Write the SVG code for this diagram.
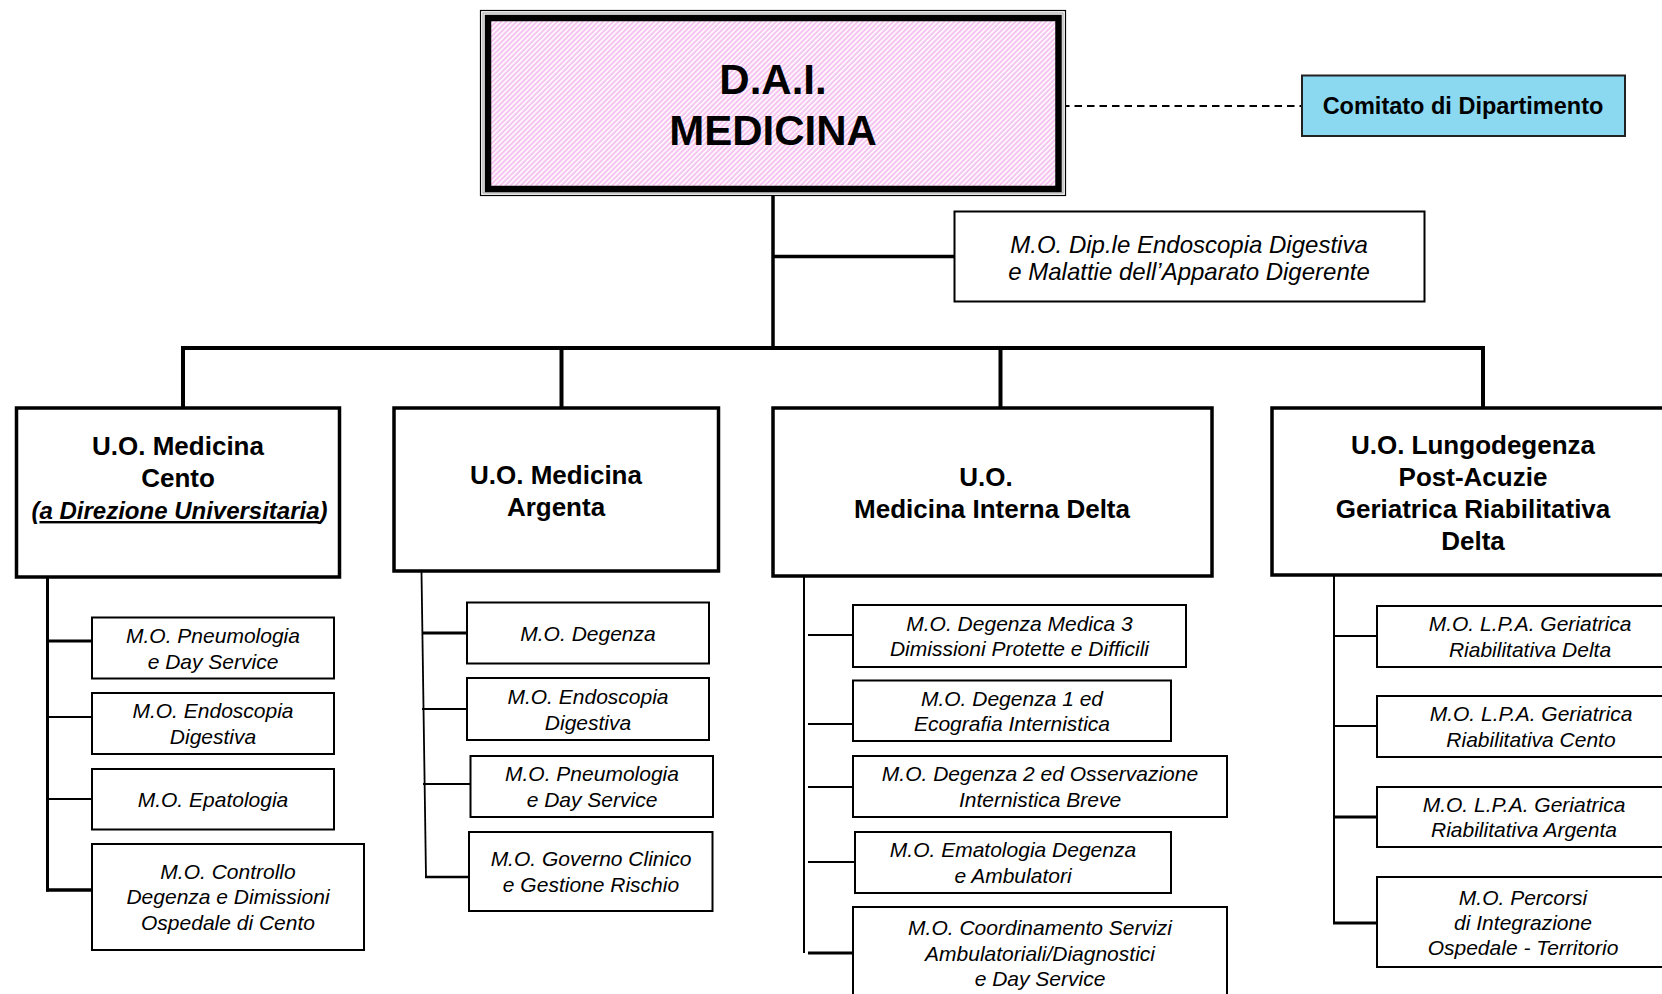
<svg xmlns="http://www.w3.org/2000/svg" width="1662" height="994" viewBox="0 0 1662 994">
<style>
text{font-family:"Liberation Sans",Arial,sans-serif;fill:#000;text-anchor:middle}
.h{font-weight:bold;font-size:26px}
.s{font-style:italic;font-size:21px}
.uo{fill:#fff;stroke:#000;stroke-width:3.5}
.mo{fill:#fff;stroke:#000;stroke-width:2}
.c line{stroke:#000}
</style>
<defs>
<pattern id="hatch" width="3.6" height="3.6" patternUnits="userSpaceOnUse" patternTransform="rotate(45)">
<rect width="3.6" height="3.6" fill="#f5c3ef"/>
<rect width="1.5" height="3.6" fill="#ffffff"/>
</pattern>
</defs>
<rect width="1662" height="994" fill="#fff"/>

<g id="connectors" class="c">
<line x1="1062" y1="106" x2="1302" y2="106" stroke-width="2" stroke-dasharray="7.5 5"/>
<line x1="773" y1="192" x2="773" y2="350" stroke-width="3.5"/>
<line x1="773" y1="256.5" x2="954" y2="256.5" stroke-width="3.5"/>
<line x1="181" y1="348" x2="1485" y2="348" stroke-width="4"/>
<line x1="183" y1="348" x2="183" y2="408" stroke-width="4"/>
<line x1="561.5" y1="348" x2="561.5" y2="408" stroke-width="4"/>
<line x1="1000.5" y1="348" x2="1000.5" y2="408" stroke-width="4"/>
<line x1="1483" y1="348" x2="1483" y2="408" stroke-width="4"/>
<!-- Cento -->
<line x1="47.5" y1="573" x2="47.5" y2="891.5" stroke-width="3"/>
<line x1="46" y1="641" x2="92" y2="641" stroke-width="3"/>
<line x1="46" y1="717" x2="92" y2="717" stroke-width="2"/>
<line x1="46" y1="799" x2="92" y2="799" stroke-width="2"/>
<line x1="46" y1="890" x2="92" y2="890" stroke-width="3.5"/>
<!-- Argenta -->
<line x1="421.5" y1="572" x2="426" y2="877" stroke-width="1.8"/>
<line x1="422" y1="633" x2="467" y2="633" stroke-width="3"/>
<line x1="422" y1="709" x2="467" y2="709" stroke-width="2"/>
<line x1="423" y1="784" x2="470.5" y2="784" stroke-width="2"/>
<line x1="425" y1="877" x2="469" y2="877" stroke-width="2.5"/>
<!-- Delta -->
<line x1="804" y1="576" x2="804" y2="953" stroke-width="2"/>
<line x1="808" y1="635" x2="853" y2="635" stroke-width="2"/>
<line x1="808" y1="724" x2="853" y2="724" stroke-width="2"/>
<line x1="808" y1="787" x2="853" y2="787" stroke-width="2"/>
<line x1="808" y1="862" x2="855" y2="862" stroke-width="2"/>
<line x1="808" y1="953" x2="853" y2="953" stroke-width="3"/>
<!-- Lungodegenza -->
<line x1="1334" y1="575" x2="1334" y2="924" stroke-width="2"/>
<line x1="1334" y1="636" x2="1377" y2="636" stroke-width="2"/>
<line x1="1334" y1="726" x2="1377" y2="726" stroke-width="2"/>
<line x1="1334" y1="817" x2="1377" y2="817" stroke-width="3"/>
<line x1="1333" y1="923" x2="1377" y2="923" stroke-width="3"/>
</g>

<g id="dai">
<rect x="480.5" y="10.5" width="585" height="185" fill="#fff" stroke="#000" stroke-width="1.2"/>
<rect x="483" y="13" width="580" height="180" fill="none" stroke="#999" stroke-width="1"/>
<rect x="488" y="18" width="570.5" height="171" fill="url(#hatch)" stroke="#000" stroke-width="6.5"/>
<text x="773" y="94" font-size="42" font-weight="bold">D.A.I.</text>
<text x="773" y="145" font-size="42" font-weight="bold">MEDICINA</text>
</g>

<g id="comitato">
<rect x="1302" y="75.5" width="323" height="60.5" fill="#8ad9f1" stroke="#222" stroke-width="2"/>
<text x="1463" y="114" font-size="23.5" font-weight="bold">Comitato di Dipartimento</text>
</g>

<g id="dip-endoscopia">
<rect x="954.5" y="211.5" width="470" height="90" fill="#fff" stroke="#000" stroke-width="2"/>
<text x="1189" y="252.5" font-size="24" font-style="italic">M.O. Dip.le Endoscopia Digestiva</text>
<text x="1189" y="280" font-size="24" font-style="italic">e Malattie dell’Apparato Digerente</text>
</g>

<g id="uo-cento">
<rect class="uo" x="16.5" y="408" width="323" height="169"/>
<text class="h" x="178" y="455">U.O. Medicina</text>
<text class="h" x="178" y="487">Cento</text>
<text class="h" x="179.5" y="519" style="font-style:italic;font-size:24px">(<tspan text-decoration="underline">a Direzione Universitaria</tspan>)</text>
</g>
<g id="uo-argenta">
<rect class="uo" x="394" y="408" width="324.5" height="163"/>
<text class="h" x="556" y="484">U.O. Medicina</text>
<text class="h" x="556" y="516">Argenta</text>
</g>
<g id="uo-delta">
<rect class="uo" x="773" y="408" width="439" height="168"/>
<text class="h" x="986" y="486">U.O.</text>
<text class="h" x="992" y="518">Medicina Interna Delta</text>
</g>
<g id="uo-lungodegenza">
<rect class="uo" x="1272" y="408" width="410" height="167"/>
<text class="h" x="1473" y="454">U.O. Lungodegenza</text>
<text class="h" x="1473" y="486">Post-Acuzie</text>
<text class="h" x="1473" y="518">Geriatrica Riabilitativa</text>
<text class="h" x="1473" y="550">Delta</text>
</g>

<g id="mo-cento-pneumologia">
<rect class="mo" x="92" y="617.5" width="242" height="61"/>
<text class="s" x="213" y="643">M.O. Pneumologia</text>
<text class="s" x="213" y="668.5">e Day Service</text>
</g>
<g id="mo-cento-endoscopia">
<rect class="mo" x="92" y="693" width="242" height="61"/>
<text class="s" x="213" y="718">M.O. Endoscopia</text>
<text class="s" x="213" y="744">Digestiva</text>
</g>
<g id="mo-cento-epatologia">
<rect class="mo" x="92" y="769" width="242" height="60.5"/>
<text class="s" x="213" y="806.5">M.O. Epatologia</text>
</g>
<g id="mo-cento-controllo">
<rect class="mo" x="92" y="844" width="272" height="106"/>
<text class="s" x="228" y="878.5">M.O. Controllo</text>
<text class="s" x="228" y="904">Degenza e Dimissioni</text>
<text class="s" x="228" y="929.5">Ospedale di Cento</text>
</g>

<g id="mo-argenta-degenza">
<rect class="mo" x="467" y="602.5" width="242" height="61"/>
<text class="s" x="588" y="640.5">M.O. Degenza</text>
</g>
<g id="mo-argenta-endoscopia">
<rect class="mo" x="467" y="678" width="242" height="62"/>
<text class="s" x="588" y="704">M.O. Endoscopia</text>
<text class="s" x="588" y="729.5">Digestiva</text>
</g>
<g id="mo-argenta-pneumologia">
<rect class="mo" x="470.5" y="756" width="242.5" height="61"/>
<text class="s" x="592" y="781">M.O. Pneumologia</text>
<text class="s" x="592" y="807">e Day Service</text>
</g>
<g id="mo-argenta-governo">
<rect class="mo" x="469" y="832" width="243.5" height="79"/>
<text class="s" x="591" y="866">M.O. Governo Clinico</text>
<text class="s" x="591" y="892">e Gestione Rischio</text>
</g>

<g id="mo-delta-degenza3">
<rect class="mo" x="853" y="605" width="333" height="62"/>
<text class="s" x="1019.5" y="630.5">M.O. Degenza Medica 3</text>
<text class="s" x="1019.5" y="656">Dimissioni Protette e Difficili</text>
</g>
<g id="mo-delta-degenza1">
<rect class="mo" x="853" y="680.5" width="318" height="60.5"/>
<text class="s" x="1012" y="705.5">M.O. Degenza 1 ed</text>
<text class="s" x="1012" y="731">Ecografia Internistica</text>
</g>
<g id="mo-delta-degenza2">
<rect class="mo" x="853" y="756" width="374" height="61"/>
<text class="s" x="1040" y="781">M.O. Degenza 2 ed Osservazione</text>
<text class="s" x="1040" y="806.5">Internistica Breve</text>
</g>
<g id="mo-delta-ematologia">
<rect class="mo" x="855" y="832" width="316" height="61"/>
<text class="s" x="1013" y="857">M.O. Ematologia Degenza</text>
<text class="s" x="1013" y="882.5">e Ambulatori</text>
</g>
<g id="mo-delta-coordinamento">
<rect class="mo" x="853" y="907" width="374" height="100"/>
<text class="s" x="1040" y="935">M.O. Coordinamento Servizi</text>
<text class="s" x="1040" y="960.5">Ambulatoriali/Diagnostici</text>
<text class="s" x="1040" y="986">e Day Service</text>
</g>

<g id="mo-lpa-delta">
<rect class="mo" x="1377" y="606" width="306" height="61"/>
<text class="s" x="1530" y="631">M.O. L.P.A. Geriatrica</text>
<text class="s" x="1530" y="656.5">Riabilitativa Delta</text>
</g>
<g id="mo-lpa-cento">
<rect class="mo" x="1377" y="696" width="306" height="61"/>
<text class="s" x="1531" y="721">M.O. L.P.A. Geriatrica</text>
<text class="s" x="1531" y="746.5">Riabilitativa Cento</text>
</g>
<g id="mo-lpa-argenta">
<rect class="mo" x="1377" y="787" width="306" height="60"/>
<text class="s" x="1524" y="811.5">M.O. L.P.A. Geriatrica</text>
<text class="s" x="1524" y="837">Riabilitativa Argenta</text>
</g>
<g id="mo-percorsi">
<rect class="mo" x="1377" y="877" width="306" height="90"/>
<text class="s" x="1523" y="904.5">M.O. Percorsi</text>
<text class="s" x="1523" y="929.5">di Integrazione</text>
<text class="s" x="1523" y="955">Ospedale - Territorio</text>
</g>
</svg>
